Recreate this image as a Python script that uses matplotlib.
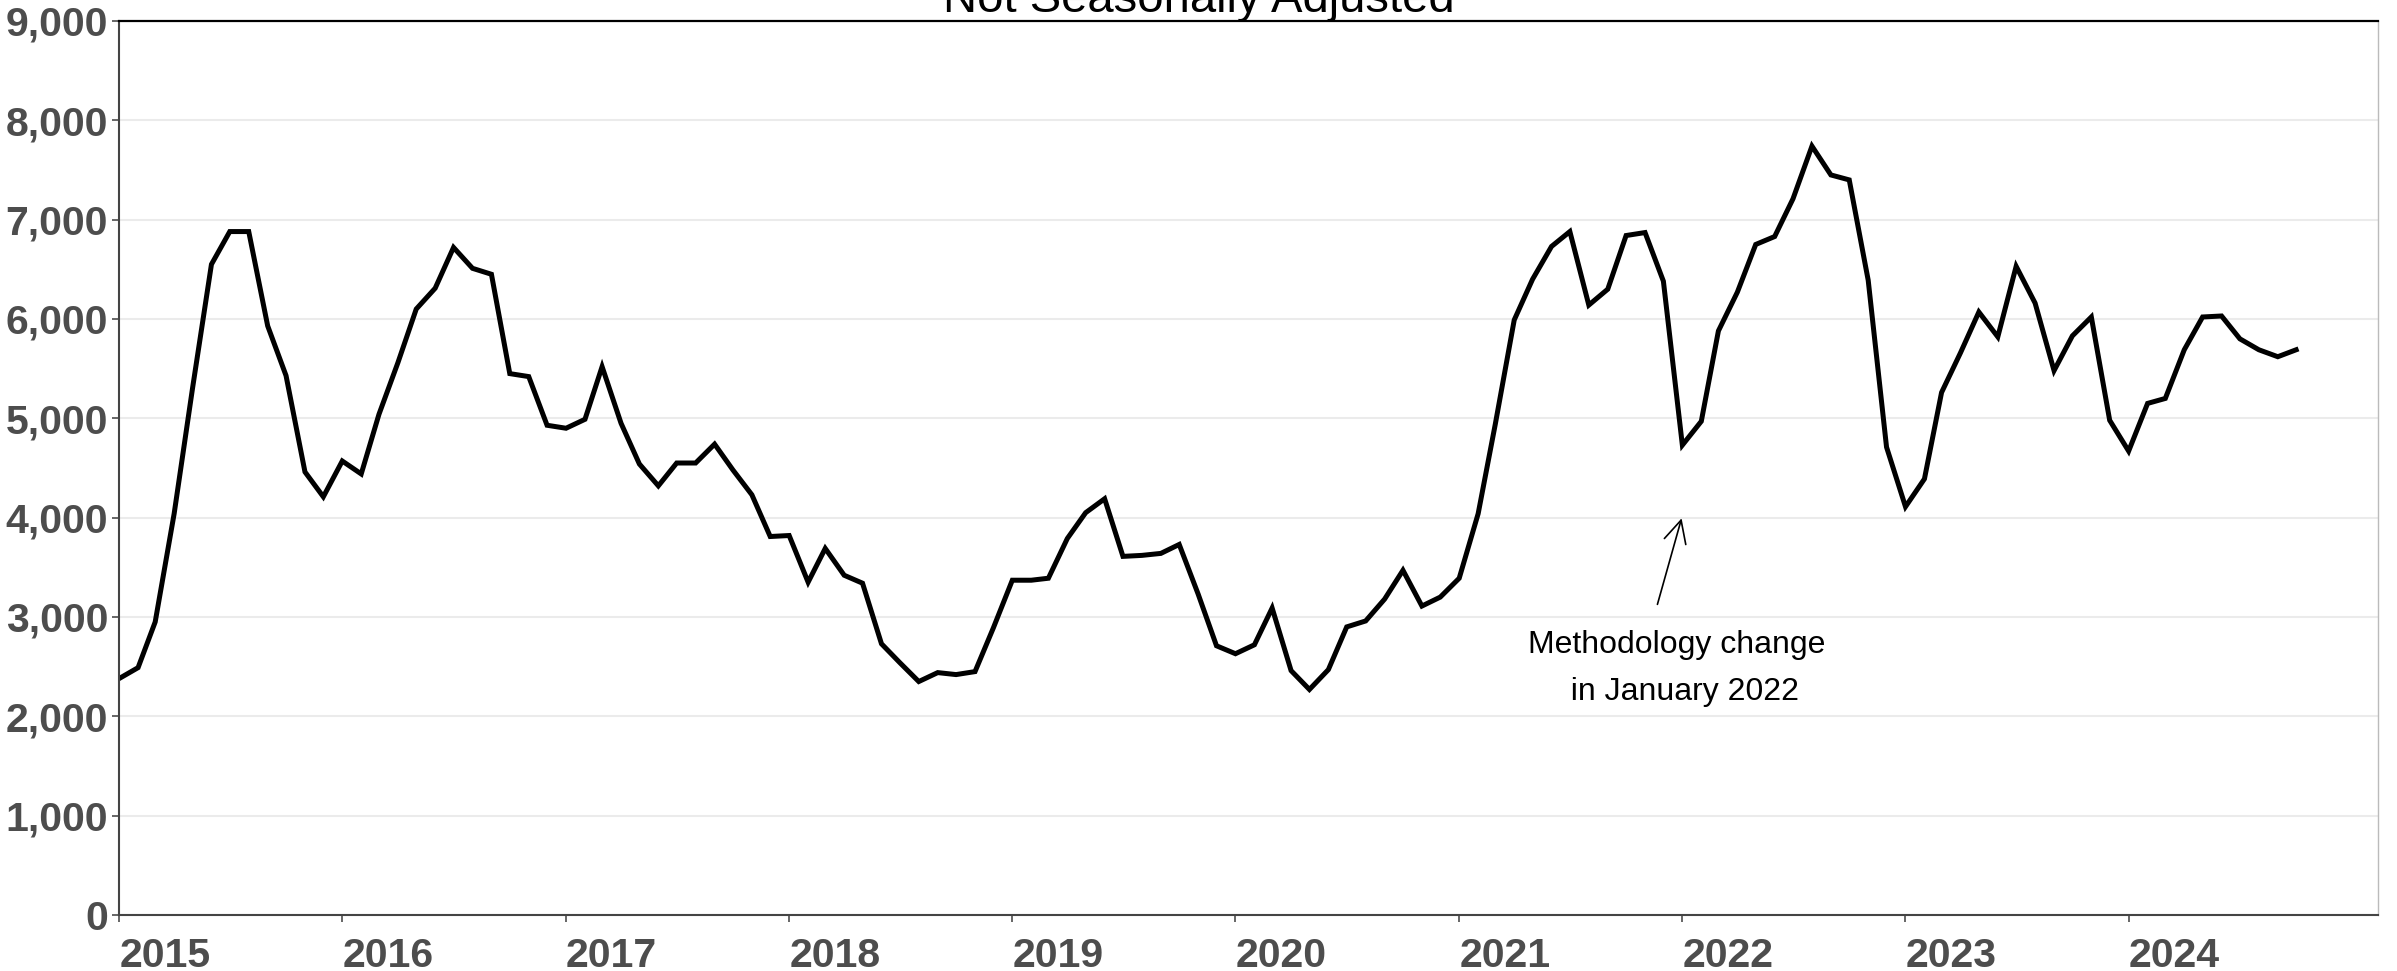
import matplotlib
import matplotlib.pyplot as plt
import pandas as pd

matplotlib.use("Agg")

# monthly values, Jan 2015 .. Oct 2024
start_month = "2015-01-01"
values = [
    2380, 2490, 2950, 4040, 5300, 6550, 6880, 6880, 5930, 5430, 4460, 4210,  # 2015
    4570, 4440, 5040, 5560, 6100, 6310, 6720, 6510, 6450, 5450, 5420, 4930,  # 2016
    4900, 4990, 5520, 4950, 4540, 4320, 4550, 4550, 4740, 4480, 4230, 3810,  # 2017
    3820, 3350, 3690, 3420, 3340, 2730, 2540, 2350, 2440, 2420, 2450, 2890,  # 2018
    3370, 3370, 3390, 3790, 4050, 4190, 3610, 3620, 3640, 3730, 3230, 2710,  # 2019
    2630, 2720, 3090, 2460, 2270, 2470, 2900, 2960, 3180, 3470, 3110, 3200,  # 2020
    3390, 4040, 4940, 5990, 6400, 6730, 6880, 6140, 6300, 6840, 6870, 6380,  # 2021
    4730, 4970, 5880, 6270, 6750, 6830, 7210, 7740, 7450, 7400, 6390, 4710,  # 2022
    4110, 4390, 5260, 5660, 6070, 5820, 6530, 6160, 5480, 5830, 6020, 4980,  # 2023
    4670, 5150, 5200, 5690, 6020, 6030, 5800, 5690, 5620, 5690,  # 2024
]
years = list(range(2015, 2025))
y_ticks = list(range(0, 9001, 1000))
title = "Not Seasonally Adjusted"
note = "Methodology change\n  in January 2022"

months = pd.date_range(start_month, periods=len(values), freq="MS")

plt.rcParams["font.family"] = ["Liberation Sans", "DejaVu Sans"]

fig = plt.figure(figsize=(23.97, 9.71), dpi=100)
ax = fig.add_axes([0.0497, 0.0577, 0.9424, 0.9207])

ax.plot(months, values, color="black", linewidth=3.6, solid_joinstyle="miter")

# axes limits / ticks
ax.set_xlim(pd.Timestamp("2015-01-01"), pd.Timestamp("2025-02-12"))
ax.set_ylim(0, 9000)

ax.set_yticks(y_ticks)
ax.set_yticklabels([f"{v:,}" for v in y_ticks])
ax.set_xticks([pd.Timestamp(f"{y}-01-01") for y in years])
ax.set_xticklabels([str(y) for y in years], ha="left")

ax.tick_params(axis="both", colors="#4d4d4d", labelsize=29.5, length=5, width=1.2)
ax.tick_params(axis="y", pad=3)
ax.tick_params(axis="x", pad=11)
for lbl in ax.get_xticklabels() + ax.get_yticklabels():
    lbl.set_fontweight("bold")

ax.yaxis.grid(True, color="#ebebeb", linewidth=1.5)
ax.set_axisbelow(True)

ax.spines["top"].set_color("black")
ax.spines["top"].set_linewidth(1.6)
ax.spines["left"].set_color("#444444")
ax.spines["left"].set_linewidth(1.5)
ax.spines["bottom"].set_color("#444444")
ax.spines["bottom"].set_linewidth(1.5)
ax.spines["right"].set_color("#bbbbbb")
ax.spines["right"].set_linewidth(1)

# annotation
ax.annotate(
    "",
    xy=(pd.Timestamp("2022-01-01"), 4020),
    xytext=(pd.Timestamp("2021-11-20"), 3100),
    arrowprops=dict(arrowstyle="->", color="black", lw=1.2, mutation_scale=40),
)
ax.text(
    pd.Timestamp("2021-12-22"), 2480, note,
    ha="center", va="center", fontsize=23, linespacing=1.75,
)

fig.text(0.5, 1 - 12 / 971, title, ha="center", va="baseline", fontsize=34)

fig.savefig("out.png", dpi=100)
plt.close(fig)
